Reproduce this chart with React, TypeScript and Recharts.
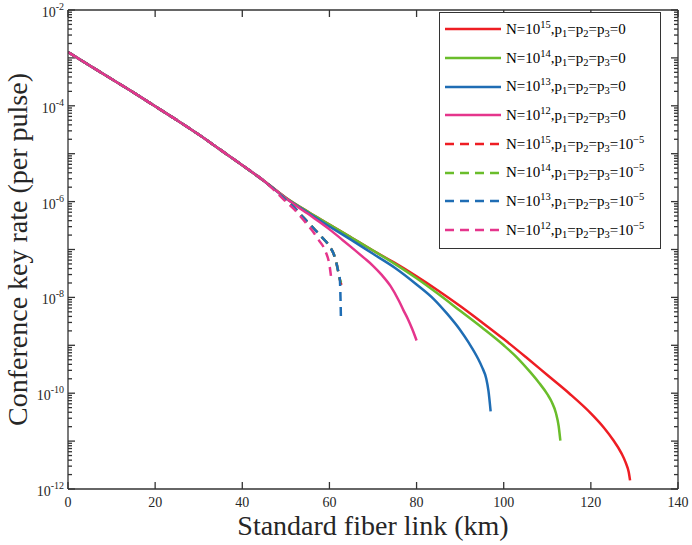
import React from "react";
import { Label, Line, LineChart, ReferenceLine, XAxis, YAxis } from "recharts";

const SERIF = "'Liberation Serif', 'Times New Roman', serif";
const AXIS = "#333333";
const TEXT = "#262626";

// distance (km) and log10(key rate)
const commonKm = [0, 5, 10, 15, 20, 25, 30, 35, 40, 45];
const commonLog = [-2.88, -3.16, -3.44, -3.72, -4.01, -4.3, -4.6, -4.92, -5.24, -5.57];

const red0Km = [50, 55, 60, 65, 70, 75, 80, 85, 90, 95, 100, 105, 110, 115, 120, 123, 125, 127, 128, 128.7, 129];
const red0Log = [-5.92, -6.21, -6.48, -6.75, -7.02, -7.28, -7.56, -7.86, -8.18, -8.52, -8.87, -9.24, -9.62, -10.0, -10.42, -10.72, -10.96, -11.25, -11.45, -11.65, -11.82];

const green0Km = [50, 55, 60, 65, 70, 75, 80, 85, 90, 95, 100, 103, 106, 108, 110, 111, 112, 112.6, 113];
const green0Log = [-5.92, -6.21, -6.48, -6.75, -7.02, -7.3, -7.6, -7.93, -8.28, -8.63, -9.0, -9.25, -9.55, -9.77, -10.02, -10.18, -10.42, -10.68, -10.99];

const blue0Km = [50, 55, 60, 65, 70, 75, 80, 84, 87, 90, 92, 94, 95, 96, 96.5, 97];
const blue0Log = [-5.93, -6.23, -6.52, -6.8, -7.09, -7.38, -7.73, -8.04, -8.34, -8.68, -8.95, -9.26, -9.45, -9.7, -9.95, -10.38];

const pink0Km = [50, 53, 55, 57, 60, 63, 65, 68, 70, 72, 74, 76, 77, 78, 79, 79.6, 80];
const pink0Log = [-5.93, -6.13, -6.25, -6.38, -6.58, -6.8, -6.95, -7.18, -7.34, -7.53, -7.76, -8.08, -8.27, -8.45, -8.66, -8.8, -8.9];

const dashKm = [48, 50, 52, 54, 56, 58, 60, 61, 61.6, 62, 62.4];
const dashLog = [-5.8, -5.97, -6.13, -6.33, -6.52, -6.72, -6.93, -7.1, -7.28, -7.45, -7.63];

const red5Km = [62.75];
const red5Log = [-7.74];
const green5Km = [62.7];
const green5Log = [-7.69];
const blue5Km = [62.55, 62.65];
const blue5Log = [-8.05, -8.49];
const pink5Km = [48, 50, 52, 54, 56, 57.5, 58.9, 60.1, 60.5];
const pink5Log = [-5.82, -6.0, -6.17, -6.38, -6.6, -6.8, -7.0, -7.38, -7.67];

const X_MIN = 0;
const X_MAX = 140;
const Y_MIN = 1e-12;
const Y_MAX = 1e-2;
const xTicks = [0, 20, 40, 60, 80, 100, 120, 140];
const decadeTicks = [1e-12, 1e-11, 1e-10, 1e-9, 1e-8, 1e-7, 1e-6, 1e-5, 1e-4, 1e-3, 1e-2];
const minorTicks: number[] = [];
decadeTicks.slice(0, -1).forEach((d) => {
  for (let m = 2; m <= 9; m++) minorTicks.push(m * d);
});

const legendN = ["15", "14", "13", "12"];

const rows = (km: number[], lg: number[]) => km.map((d, i) => ({ km: d, rate: 10 ** lg[i] }));

// solid series on bottom/left axes, dashed on the top/right pair (identical scales)
const series = [
  { key: "s0", color: "#ee1d23", dashed: false, n: 0, data: rows([...commonKm, ...red0Km], [...commonLog, ...red0Log]) },
  { key: "s1", color: "#6abd2b", dashed: false, n: 1, data: rows([...commonKm, ...green0Km], [...commonLog, ...green0Log]) },
  { key: "s2", color: "#1f6db4", dashed: false, n: 2, data: rows([...commonKm, ...blue0Km], [...commonLog, ...blue0Log]) },
  { key: "s3", color: "#e5358c", dashed: false, n: 3, data: rows([...commonKm, ...pink0Km], [...commonLog, ...pink0Log]) },
  { key: "s4", color: "#ee1d23", dashed: true, n: 0, data: rows([...commonKm, ...dashKm, ...red5Km], [...commonLog, ...dashLog, ...red5Log]) },
  { key: "s5", color: "#6abd2b", dashed: true, n: 1, data: rows([...commonKm, ...dashKm, ...green5Km], [...commonLog, ...dashLog, ...green5Log]) },
  { key: "s6", color: "#1f6db4", dashed: true, n: 2, data: rows([...commonKm, ...dashKm, ...blue5Km], [...commonLog, ...dashLog, ...blue5Log]) },
  { key: "s7", color: "#e5358c", dashed: true, n: 3, data: rows([...commonKm, ...pink5Km], [...commonLog, ...pink5Log]) },
];

const DASH = "9 6";

// inward tick lengths: ~7 px major, ~4 px minor (plot is ~610 px wide, 48 px per decade)
const kmPerPx = (X_MAX - X_MIN) / 610;
const decPerPx = 1 / 48;
const yUp = (v: number, px: number) => v * 10 ** (px * decPerPx);
const yDown = (v: number, px: number) => v / 10 ** (px * decPerPx);

type Seg = { key: string; seg: [{ x: number; y: number }, { x: number; y: number }] };
const frameTicks: Seg[] = [];
decadeTicks.forEach((v, i) => {
  frameTicks.push({ key: `lM${i}`, seg: [{ x: X_MIN, y: v }, { x: X_MIN + 7 * kmPerPx, y: v }] });
  frameTicks.push({ key: `rM${i}`, seg: [{ x: X_MAX - 7 * kmPerPx, y: v }, { x: X_MAX, y: v }] });
});
minorTicks.forEach((v, i) => {
  frameTicks.push({ key: `lm${i}`, seg: [{ x: X_MIN, y: v }, { x: X_MIN + 4 * kmPerPx, y: v }] });
  frameTicks.push({ key: `rm${i}`, seg: [{ x: X_MAX - 4 * kmPerPx, y: v }, { x: X_MAX, y: v }] });
});
xTicks.forEach((t, i) => {
  frameTicks.push({ key: `b${i}`, seg: [{ x: t, y: Y_MIN }, { x: t, y: yUp(Y_MIN, 7) }] });
  frameTicks.push({ key: `t${i}`, seg: [{ x: t, y: yDown(Y_MAX, 7) }, { x: t, y: Y_MAX }] });
});

function LeftTick(props: any) {
  const { x, y, payload } = props;
  const exp = Math.round(Math.log10(payload.value));
  if (exp % 2 !== 0) return <g />;
  return (
    <text x={x - 4} y={y + 7} textAnchor="end" fill={TEXT} fontSize={14}>
      10
      <tspan dy={-7} fontSize={10}>
        {exp}
      </tspan>
    </text>
  );
}

function BottomTick(props: any) {
  const { x, y, payload } = props;
  return (
    <text x={x} y={y + 18} textAnchor="middle" fill={TEXT} fontSize={14}>
      {payload.value}
    </text>
  );
}

function LegendBox() {
  const sub = { fontSize: 10.5, lineHeight: 0, verticalAlign: "-3px" };
  const sup = { fontSize: 10.5, lineHeight: 0, verticalAlign: "6px" };
  return (
    <div
      style={{
        position: "absolute",
        left: 439,
        top: 12,
        width: 220,
        border: `1px solid ${AXIS}`,
        background: "#fff",
        padding: "2px 0 3px 0",
        fontFamily: SERIF,
        fontSize: 15,
        color: "#000",
      }}
    >
      {series.map((s) => (
        <div key={s.key} style={{ height: 28.7, display: "flex", alignItems: "center", whiteSpace: "nowrap" }}>
          <svg width={66} height={10}>
            <line x1={5} x2={61} y1={5} y2={5} stroke={s.color} strokeWidth={2.5} strokeDasharray={s.dashed ? DASH : undefined} />
          </svg>
          <span>
            N=10<span style={sup}>{legendN[s.n]}</span>,p<span style={sub}>1</span>=p<span style={sub}>2</span>=p
            <span style={sub}>3</span>=
            {s.dashed ? (
              <>
                10<span style={sup}>−5</span>
              </>
            ) : (
              "0"
            )}
          </span>
        </div>
      ))}
    </div>
  );
}

export default function App() {
  return (
    <div style={{ position: "absolute", left: 0, top: 0, width: 692, height: 545, fontFamily: SERIF }}>
      <LineChart width={692} height={545} margin={{ top: 9, right: 13, bottom: 0, left: 0 }}>
        <XAxis
          xAxisId="top"
          orientation="top"
          type="number"
          dataKey="km"
          domain={[X_MIN, X_MAX]}
          allowDataOverflow
          ticks={xTicks}
          height={1}
          tick={false}
          stroke={AXIS}
          strokeWidth={1.3}
        />
        <XAxis
          xAxisId="bottom"
          type="number"
          dataKey="km"
          domain={[X_MIN, X_MAX]}
          allowDataOverflow
          ticks={xTicks}
          interval={0}
          height={56}
          tickSize={0}
          tickMargin={0}
          tickLine={false}
          tick={<BottomTick />}
          stroke={AXIS}
          strokeWidth={1.3}
        >
          <Label value="Standard fiber link (km)" position="insideBottom" offset={10} fill={TEXT} fontSize={28} />
        </XAxis>
        <YAxis
          yAxisId="left"
          type="number"
          scale="log"
          domain={[Y_MIN, Y_MAX]}
          allowDataOverflow
          ticks={decadeTicks}
          interval={0}
          width={68}
          tickSize={0}
          tickMargin={0}
          tickLine={false}
          tick={<LeftTick />}
          stroke={AXIS}
          strokeWidth={1.3}
        >
          <Label
            value="Conference key rate (per pulse)"
            angle={-90}
            position="insideLeft"
            offset={17}
            fill={TEXT}
            fontSize={28}
            style={{ textAnchor: "middle" }}
          />
        </YAxis>
        <YAxis
          yAxisId="right"
          orientation="right"
          type="number"
          scale="log"
          domain={[Y_MIN, Y_MAX]}
          allowDataOverflow
          ticks={decadeTicks}
          width={1}
          tick={false}
          stroke={AXIS}
          strokeWidth={1.3}
        />
        {frameTicks.map((t) => (
          <ReferenceLine
            key={t.key}
            xAxisId="bottom"
            yAxisId="left"
            segment={t.seg}
            stroke={AXIS}
            strokeWidth={1.3}
            ifOverflow="visible"
          />
        ))}
        {series.map((s) => (
          <Line
            key={s.key}
            name={s.key}
            data={s.data}
            xAxisId={s.dashed ? "top" : "bottom"}
            yAxisId={s.dashed ? "right" : "left"}
            dataKey="rate"
            type="monotone"
            stroke={s.color}
            strokeWidth={2.5}
            strokeDasharray={s.dashed ? DASH : undefined}
            dot={false}
            activeDot={false}
            isAnimationActive={false}
          />
        ))}
      </LineChart>
      <LegendBox />
    </div>
  );
}
